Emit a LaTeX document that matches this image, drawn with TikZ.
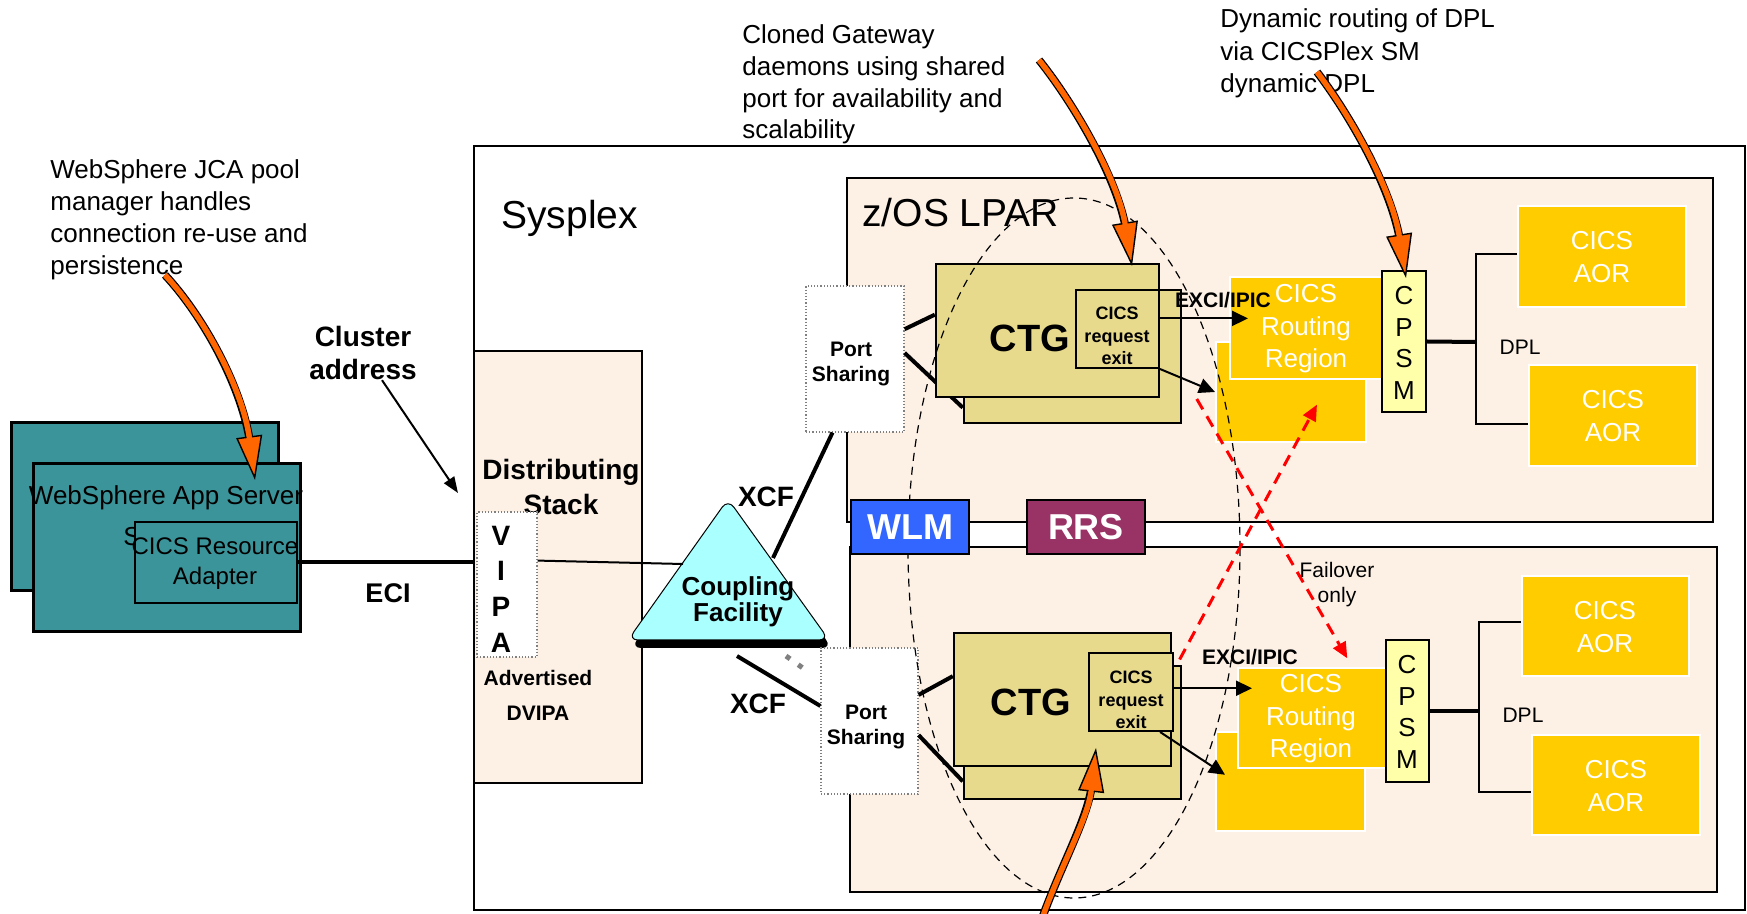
\documentclass[tikz,border=0pt]{standalone}
\usepackage{fontspec}
\setmainfont{Liberation Sans}
\usetikzlibrary{arrows.meta}
\usetikzlibrary{fit}

\definecolor{tealC}{RGB}{58,148,153}
\definecolor{peachC}{RGB}{253,241,230}
\definecolor{khakiC}{RGB}{232,218,140}
\definecolor{goldC}{RGB}{255,204,0}
\definecolor{paleC}{RGB}{255,255,170}
\definecolor{cyanC}{RGB}{170,255,255}
\definecolor{orangeC}{RGB}{255,102,0}
\definecolor{wlmC}{RGB}{51,102,255}
\definecolor{rrsC}{RGB}{153,51,102}
\definecolor{redC}{RGB}{255,0,0}

\newcommand{\fsz}[2]{\fontsize{#1}{#2}\selectfont}

% orange callout arrow: tail, control, control, head
\newcommand{\callout}[4]{%
	\draw[line width=4pt, black, shorten >=18pt] (#1) .. controls (#2) and (#3) .. (#4);
	\draw[line width=2.6pt, orangeC, -{Triangle[length=22pt, width=13pt, color=black, fill=orangeC, line width=0.7pt]}] (#1) .. controls (#2) and (#3) .. (#4);
	\draw[line width=2.6pt, orangeC, shorten >=20pt] (#1) .. controls (#2) and (#3) .. (#4);
}

\tikzset{
	box/.style={draw=black, line width=1pt, inner sep=0pt},
	lparbox/.style={box, fill=peachC},
	tealbox/.style={box, line width=1.5pt, fill=tealC},
	ctgbox/.style={box, line width=1.2pt, fill=khakiC},
	goldbox/.style={draw=white, line width=1pt, fill=goldC, inner sep=0pt},
	cpsmbox/.style={box, fill=paleC},
	dotbox/.style={draw=gray, densely dotted, line width=0.6pt, fill=white, inner sep=0pt},
	txt/.style={inner sep=0pt, align=center},
	goldtxt/.style={txt, text=white, font=\fsz{13}{16.25}},
	cpsmtxt/.style={txt, font=\fsz{13}{15.8}},
	pstxt/.style={txt, font=\bfseries\fsz{10.5}{12.5}},
	svctxt/.style={txt, text=white, font=\bfseries\fsz{18}{20}},
	link/.style={line width=2pt},
	thinlink/.style={line width=1pt},
	flow/.style={line width=1pt, -{Triangle[length=8pt, width=7.5pt]}},
	failover/.style={redC, line width=1.5pt, dash pattern=on 6pt off 4pt, -{Triangle[length=8pt, width=7pt]}}
}

\begin{document}
\begin{tikzpicture}[x=0.5pt, y=-0.5pt]

	\useasboundingbox (0,0) rectangle (1747,914);
	\fill[white] (0,0) rectangle (1747,914);

	% Draw sysplex and LPARs
	\node[box, fill=white, fit={(474,146) (1745,910)}] (sysplex) {};
	\node[lparbox, fit={(847,178) (1713,522)}] (lparA) {};
	\node[lparbox, fit={(850,547) (1717,892)}] (lparB) {};
	\node[txt, anchor=west, font=\fsz{19.5}{22}] (sysT) at (501,218) {Sysplex};
	\node[txt, anchor=west, font=\fsz{19.5}{22}] (lparT) at (862,213) {z/OS LPAR};

	% Draw distributing stack
	\node[lparbox, fit={(474,351) (642,783)}] (stack) {};
	\node[txt, font=\bfseries\fsz{14}{17.5}] (stackT) at (561,487) {Distributing\\Stack};
	\node[dotbox, fit={(477,512) (537,657)}] (vipa) {};
	\node[txt, font=\bfseries\fsz{14}{17.8}] (vipaT) at (501,589) {V\\I\\P\\A};
	\node[txt, font=\bfseries\fsz{10.5}{17.5}] (dvipa) at (538,695) {Advertised\\DVIPA};

	% Draw WebSphere servers
	\node[tealbox, fit={(11,423) (278,591)}] (wasB) {};
	\node[tealbox, fit={(33,464) (300,632)}] (wasA) {};
	\node[txt, font=\fsz{13}{15}] (wasT) at (166,498) {WebSphere App Server};
	\node[txt, font=\fsz{13}{15}] (sFrag) at (132,537) {S};
	\node[box, fill=tealC, fit={(135,522) (297,603)}] (rA) {};
	\node[txt, font=\fsz{12}{15}] (rAT) at (215,564) {CICS Resource\\Adapter};

	\draw[link] (rA.east) -- (rA.east -| stack.west);
	\node[txt, font=\bfseries\fsz{13.5}{16}] (eci) at (388,593) {ECI};
	\node[txt, font=\bfseries\fsz{14}{16.5}] (clus) at (363,353) {Cluster\\address};
	\coordinate (clusT) at (458,493);
	\draw[thinlink, -{Triangle[length=8pt, width=6pt]}] (clus.-55) -- (clusT);

	% Draw coupling facility
	\coordinate (cfTop) at (728,499);
	\coordinate (cfL) at (628,640);
	\coordinate (cfR) at (829,640);
	\fill[black, rounded corners=5pt] ([shift={(3,8)}]cfTop) -- ([shift={(3,8)}]cfR) -- ([shift={(3,8)}]cfL) -- cycle;
	\filldraw[fill=cyanC, draw=black, line width=0.5pt, rounded corners=5pt] (cfTop) -- (cfR) -- (cfL) -- cycle;
	\node[txt, font=\bfseries\fsz{13}{10}] (cfT) at (738,602) {Coupling\\Facility};
	\draw[gray, line width=2.5pt, dash pattern=on 2.5pt off 5pt] (786,656) -- (807,671);
	\coordinate (cfW) at (683,564);
	\coordinate (cfNE) at (773,558);
	\coordinate (cfS) at (737,656);
	\draw[thinlink] (vipa.38) -- (cfW);

	% Draw port sharing
	\node[dotbox, fit={(806,286) (904,432)}] (psA) {};
	\node[pstxt] (psAT) at (851,364) {Port\\Sharing};
	\node[dotbox, fit={(821,648) (918,794)}] (psB) {};
	\node[pstxt] (psBT) at (866,727) {Port\\Sharing};
	\draw[link] (cfNE) -- (psA.253);
	\draw[link] (cfS) -- (psB.163);
	\node[txt, font=\bfseries\fsz{14}{16}] (xcfA) at (766,497) {XCF};
	\node[txt, font=\bfseries\fsz{14}{16}] (xcfB) at (758,704) {XCF};

	% Draw gateways
	\node[ctgbox, fit={(964,290) (1181,423)}] (ctgAb) {};
	\draw[link] (psA.7) -- (ctgAb.205);
	\node[ctgbox, fit={(936,264) (1159,397)}] (ctgA) {};
	\draw[link] (psA.31) -- (ctgA.172);
	\node[box, fill=khakiC, fit={(1076,290) (1159,368)}] (exitA) {};
	\node[txt, font=\bfseries\fsz{9}{11.25}] (exitAT) at (1117,336) {CICS\\request\\exit};
	\node[txt, font=\bfseries\fsz{19}{22}] (ctgAT) at (1030,338) {CTG};

	\node[ctgbox, fit={(964,666) (1181,799)}] (ctgBb) {};
	\draw[link] (psB.-16) -- (ctgBb.204);
	\node[ctgbox, fit={(954,633) (1171,766)}] (ctgB) {};
	\draw[link] (psB.28) -- (ctgB.168);
	\node[box, fill=khakiC, fit={(1089,653) (1173,731)}] (exitB) {};
	\node[txt, font=\bfseries\fsz{9}{11.25}] (exitBT) at (1131,700) {CICS\\request\\exit};
	\node[txt, font=\bfseries\fsz{19}{22}] (ctgBT) at (1031,702) {CTG};

	% Draw routing regions
	\node[goldbox, fit={(1216,342) (1366,442)}] (rrAb) {};
	\node[goldbox, fit={(1230,277) (1382,379)}] (rrA) {};
	\node[goldtxt] (rrAT) at (1306,329) {CICS\\Routing\\Region};
	\node[cpsmbox, fit={(1382,271) (1426,412)}] (cpsmA) {};
	\node[cpsmtxt] (cpsmAT) at (1404,343) {C\\P\\S\\M};
	\node[goldbox, fit={(1216,732) (1365,831)}] (rrBb) {};
	\node[goldbox, fit={(1238,668) (1387,768)}] (rrB) {};
	\node[goldtxt] (rrBT) at (1311,719) {CICS\\Routing\\Region};
	\node[cpsmbox, fit={(1386,640) (1429,782)}] (cpsmB) {};
	\node[cpsmtxt] (cpsmBT) at (1407,712) {C\\P\\S\\M};

	% Draw AORs
	\node[goldbox, fit={(1518,206) (1686,307)}] (aorA1) {};
	\node[goldtxt] (aorA1T) at (1602,257) {CICS\\AOR};
	\node[goldbox, fit={(1529,365) (1697,466)}] (aorA2) {};
	\node[goldtxt] (aorA2T) at (1613,416) {CICS\\AOR};
	\node[goldbox, fit={(1522,576) (1689,676)}] (aorB1) {};
	\node[goldtxt] (aorB1T) at (1605,627) {CICS\\AOR};
	\node[goldbox, fit={(1532,735) (1700,835)}] (aorB2) {};
	\node[goldtxt] (aorB2T) at (1616,786) {CICS\\AOR};

	% Draw DPL links
	\coordinate (dplA) at (1476,342);
	\coordinate (dplB) at (1479,711);
	\draw[link] (cpsmA.east) -- (dplA);
	\draw[thinlink] (aorA1.178) -| (dplA) |- (aorA2.186);
	\draw[link] (cpsmB.east) -- (dplB);
	\draw[thinlink] (aorB1.177) -| (dplB) |- (aorB2.185);
	\node[txt, font=\fsz{10.5}{12}] (dplAT) at (1520,347) {DPL};
	\node[txt, font=\fsz{10.5}{12}] (dplBT) at (1523,715) {DPL};

	% Draw cloned gateway group
	\draw[line width=0.6pt, dash pattern=on 4pt off 3pt] (1074,548) ellipse [x radius=166, y radius=350];

	% Draw WLM and RRS
	\node[box, fill=wlmC, fit={(851,500) (969,554)}] (wlm) {};
	\node[svctxt] (wlmT) at (910,527) {WLM};
	\node[box, fill=rrsC, fit={(1027,500) (1145,554)}] (rrs) {};
	\node[svctxt] (rrsT) at (1086,527) {RRS};

	% Draw EXCI flows
	\draw[flow, shorten >=-9.5pt] (exitA.14) -- (exitA.14 -| rrA.west);
	\draw[flow] (exitA.south east) -- (rrAb.west);
	\draw[flow, shorten >=-7.5pt] (exitB.5) -- (exitB.5 -| rrB.west);
	\draw[flow, shorten >=-6pt] (exitB.-54) -- (rrBb.170);
	\node[txt, font=\bfseries\fsz{10.5}{12}] (exciA) at (1223,300) {EXCI/IPIC};
	\node[txt, font=\bfseries\fsz{10.5}{12}] (exciB) at (1250,657) {EXCI/IPIC};

	% Draw failover flows
	\draw[failover, shorten <=14.5pt, shorten >=5pt] (ctgAb.-9) -- (rrB.52);
	\draw[failover, shorten <=3pt, shorten >=14pt] (ctgBb.33) -- (rrA.-65);
	\node[txt, font=\fsz{10.5}{12.5}] (failT) at (1337,585) {Failover\\only};

	% Draw notes
	\node[txt, anchor=west, align=left, font=\fsz{13}{16}] (jca) at (50,219.5) {WebSphere JCA pool\\manager handles\\connection re-use and\\persistence};
	\node[txt, anchor=west, align=left, font=\fsz{13}{15.8}] (cloned) at (742,84.5) {Cloned Gateway\\daemons using shared\\port for availability and\\scalability};
	\node[txt, anchor=west, align=left, font=\fsz{13}{16.25}] (dynamic) at (1220,53.5) {Dynamic routing of DPL\\via CICSPlex SM\\dynamic DPL};

	% Draw callout arrows
	\coordinate (jcaT) at (165,275);
	\coordinate (jcaH) at (255,480);
	\coordinate (clonedT) at (1039,60);
	\coordinate (clonedH) at (1132,266);
	\coordinate (dynT) at (1317,72);
	\coordinate (dynH) at (1406,278);
	\coordinate (botT) at (1038,930);
	\coordinate (botH) at (1096,748);
	\callout{jcaT}{205,318}{243,390}{jcaH}
	\callout{clonedT}{1075,105}{1118,180}{clonedH}
	\callout{dynT}{1352,118}{1392,190}{dynH}
	\callout{botT}{1058,870}{1088,820}{botH}

\end{tikzpicture}
\end{document}
